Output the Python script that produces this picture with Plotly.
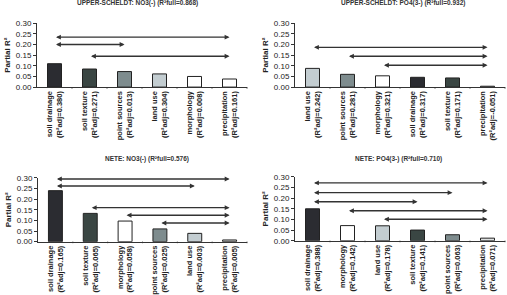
import plotly.graph_objects as go

# ---- data ----
titles = [
    "UPPER-SCHELDT: NO3(-) (R²full=0.868)",
    "UPPER-SCHELDT: PO4(3-) (R²full=0.932)",
    "NETE: NO3(-) (R²full=0.576)",
    "NETE: PO4(3-) (R²full=0.710)",
]
cats1 = ["soil drainage", "soil texture", "point sources", "land use", "morphology", "precipitation"]
radj1 = ["0.380", "0.271", "0.013", "0.304", "0.008", "0.161"]
vals1 = [0.110, 0.085, 0.073, 0.062, 0.050, 0.038]
arrows1 = [(0, 5, 0.235), (0, 2, 0.200), (1, 5, 0.145)]

cats2 = ["land use", "point sources", "morphology", "soil drainage", "soil texture", "precipitation"]
radj2 = ["0.242", "0.281", "0.321", "0.317", "0.171", "-0.051"]
vals2 = [0.088, 0.060, 0.053, 0.046, 0.043, 0.004]
arrows2 = [(0, 5, 0.187), (1, 5, 0.145), (2, 5, 0.103)]

cats3 = ["soil drainage", "soil texture", "morphology", "point sources", "land use", "precipitation"]
radj3 = ["0.165", "0.065", "0.058", "0.025", "0.003", "0.005"]
vals3 = [0.240, 0.133, 0.097, 0.060, 0.039, 0.008]
arrows3 = [(0, 5, 0.295), (0, 4, 0.262), (1, 5, 0.160), (2, 5, 0.124), (3, 5, 0.088)]

cats4 = ["soil drainage", "morphology", "land use", "soil texture", "point sources", "precipitation"]
radj4 = ["0.388", "0.142", "0.178", "0.141", "0.063", "0.071"]
vals4 = [0.150, 0.071, 0.070, 0.050, 0.028, 0.012]
arrows4 = [(0, 5, 0.272), (0, 4, 0.226), (0, 3, 0.183), (1, 5, 0.141), (2, 5, 0.101)]

colors = {
    "soil drainage": "#2b2c31",
    "soil texture": "#3a4643",
    "point sources": "#7e8c8e",
    "land use": "#c3cdd1",
    "morphology": "#ffffff",
}
precip_colors = ["#ffffff", "#d5d9d9", "#cdd2d2", "#dfe2e2"]

panels = [
    (cats1, radj1, vals1, arrows1),
    (cats2, radj2, vals2, arrows2),
    (cats3, radj3, vals3, arrows3),
    (cats4, radj4, vals4, arrows4),
]

# ---- layout geometry ----
W, H = 507, 295
xdoms = [[37 / W, 247 / W], [295 / W, 505 / W], [38 / W, 247 / W], [295 / W, 505 / W]]
ydoms = [[1 - 86 / H, 1 - 20 / H], [1 - 86 / H, 1 - 20 / H],
         [1 - 246 / H, 1 - 180 / H], [1 - 245 / H, 1 - 179 / H]]
title_pos = [(137 / W, 1 + 1 / H), (403 / W, 1 + 1 / H), (147 / W, 1 - 160 / H), (398 / W, 1 - 160 / H)]

FONT = "Liberation Sans, Arial, sans-serif"
fig = go.Figure()
layout = dict(
    width=W, height=H, margin=dict(l=0, r=0, t=0, b=0),
    paper_bgcolor="white", plot_bgcolor="white", showlegend=False,
    bargap=0.6, font=dict(family=FONT, color="#222"),
)
annotations = []
for i, (cats, radj, vals, arrows) in enumerate(panels):
    n = "" if i == 0 else str(i + 1)
    labels = [f"<b>{c}<br>(R²adj={r})</b>" for c, r in zip(cats, radj)]
    cols = [colors.get(c, precip_colors[i]) for c in cats]
    fig.add_trace(go.Bar(
        x=list(range(len(cats))), y=vals, marker=dict(color=cols, line=dict(color="#222", width=1)),
        xaxis="x" + n, yaxis="y" + n, width=0.4,
    ))
    layout["xaxis" + n] = dict(
        domain=xdoms[i], anchor="y" + n, range=[-0.5, 5.5],
        tickmode="array", tickvals=list(range(6)), ticktext=labels, tickangle=-90,
        showline=True, linecolor="#333", linewidth=1, ticks="", showgrid=False,
        tickfont=dict(size=7.5, family=FONT, color="#222"), zeroline=False,
    )
    layout["yaxis" + n] = dict(
        domain=ydoms[i], anchor="x" + n, range=[0, 0.30], dtick=0.05, tickformat=".2f",
        showline=True, linecolor="#333", linewidth=1, ticks="outside", ticklen=3,
        tickcolor="#333", showgrid=False, zeroline=False,
        tickfont=dict(size=8, family=FONT, color="#222"),
        title=dict(text="<b>Partial R²</b>", font=dict(size=8, family=FONT, color="#222"), standoff=4),
    )
    # boundary ticks on x axis
    for b in range(1, 7):
        annotations.append(dict(
            x=b - 0.5, y=0, xref="x" + n, yref="y" + n, ax=0, ay=3, axref="pixel", ayref="pixel",
            showarrow=True, arrowhead=0, arrowwidth=1, arrowcolor="#333", text="",
        ))
    for (s, e, yv) in arrows:
        annotations.append(dict(
            x=e, y=yv, ax=s, ay=yv, xref="x" + n, yref="y" + n, axref="x" + n, ayref="y" + n,
            showarrow=True, arrowhead=2, arrowside="end+start", arrowsize=0.7, arrowwidth=1.4,
            arrowcolor="#333", text="",
        ))
    tx, ty = title_pos[i]
    annotations.append(dict(
        x=tx, y=ty, xref="paper", yref="paper", showarrow=False,
        text=f"<b>{titles[i]}</b>", font=dict(size=6.5, family=FONT, color="#333"),
        xanchor="center", yanchor="middle",
    ))
layout["annotations"] = annotations
fig.update_layout(**layout)
fig.write_html("out.html")
